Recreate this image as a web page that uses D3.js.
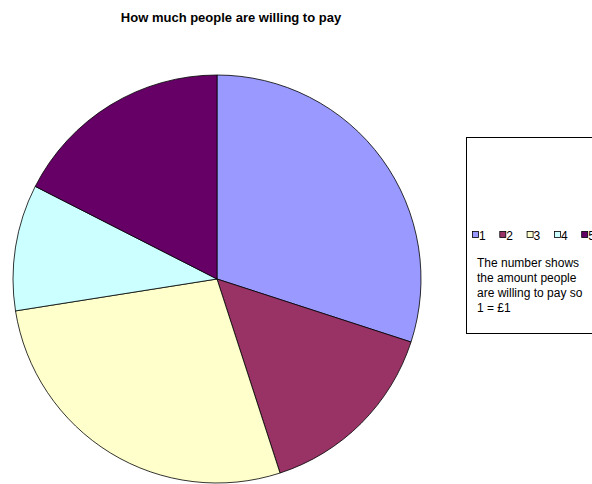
<!DOCTYPE html>
<html><head><meta charset="utf-8">
<script src="https://cdn.jsdelivr.net/npm/d3@7"></script>
<style>body{margin:0;background:#fff}svg{display:block;font-family:"Liberation Sans",Arial,sans-serif}</style>
</head><body>
<svg id="c" width="592" height="484"></svg>
<script>
const categories = ["1","2","3","4","5"];
const values = [12, 6, 11, 4, 7];
const colors = ["#9999FF","#993366","#FFFFCC","#CCFFFF","#660066"];
const title = "How much people are willing to pay";
const note = ["The number shows","the amount people","are willing to pay so","1 = £1"];

const svg = d3.select("#c");
svg.append("text").attr("x",231).attr("y",22).attr("text-anchor","middle")
  .attr("font-size",13).attr("font-weight","bold").text(title);

const data = categories.map((c,i)=>({c, v:values[i]}));
const pie = d3.pie().value(d=>d.v).sort(null);
const arc = d3.arc().innerRadius(0).outerRadius(204);
const g = svg.append("g").attr("transform","translate(217,279)");
g.selectAll("path").data(pie(data)).join("path")
  .attr("d",arc).attr("fill",(d,i)=>colors[i])
  .attr("stroke","#000").attr("stroke-width",0.8);

// legend
svg.append("rect").attr("x",466.5).attr("y",137.5).attr("width",140).attr("height",196)
  .attr("fill","#fff").attr("stroke","#000").attr("stroke-width",1);
const lg = svg.append("g");
categories.forEach((c,i)=>{
  const x = 472 + i*27.3;
  lg.append("rect").attr("x",x+0.5).attr("y",231.5).attr("width",6).attr("height",6)
    .attr("fill",colors[i]).attr("stroke","#000").attr("stroke-width",0.8);
  lg.append("text").attr("x",x+7).attr("y",239.5).attr("font-size",12).text(c);
});
note.forEach((t,i)=>{
  lg.append("text").attr("x",477).attr("y",267+i*15).attr("font-size",12).text(t);
});
</script>
</body></html>
